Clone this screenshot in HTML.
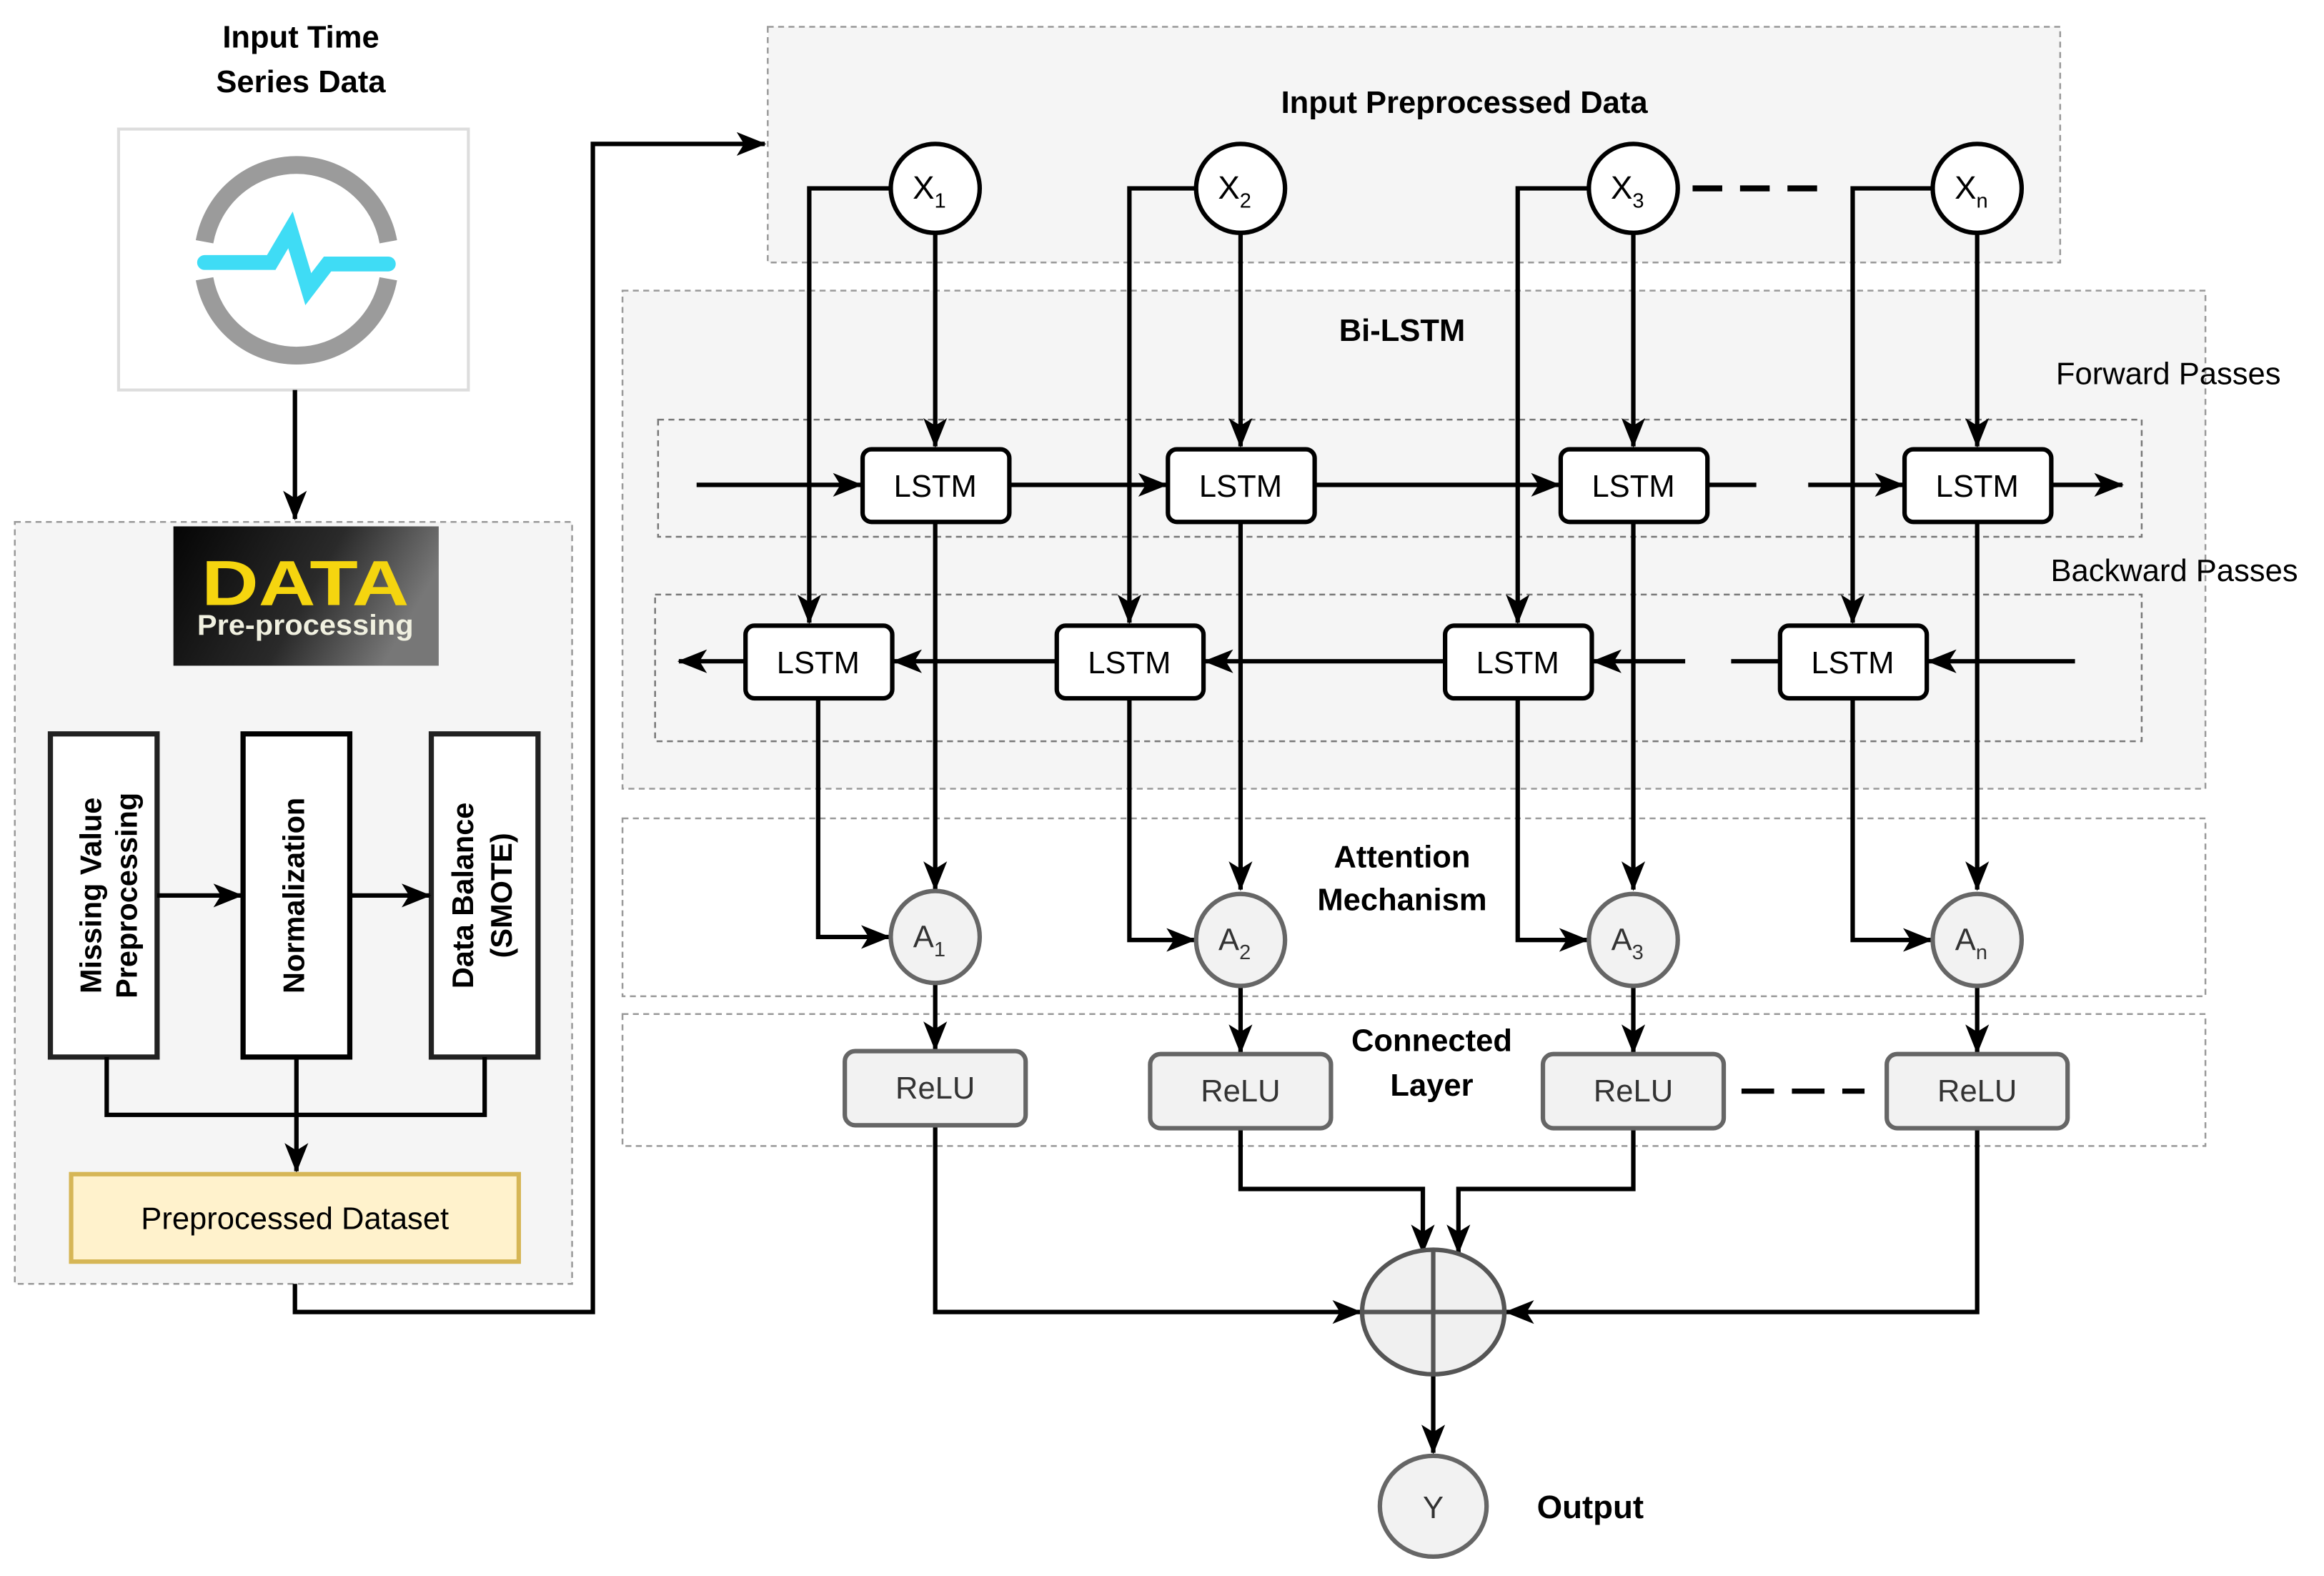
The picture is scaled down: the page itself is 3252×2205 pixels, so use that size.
<!DOCTYPE html>
<html><head><meta charset="utf-8"><style>
html,body{margin:0;padding:0;background:#fff}
svg{display:block}
text{font-family:"Liberation Sans",sans-serif}
</style></head><body>
<svg width="3252" height="2205" viewBox="0 0 1568 1063" xmlns="http://www.w3.org/2000/svg">
<defs>
<marker id="a" viewBox="0 0 20 20" refX="19" refY="10" markerWidth="20" markerHeight="20" markerUnits="userSpaceOnUse" orient="auto">
<path d="M0,2 L20,10 L0,18 L5,10 Z" fill="#000"/>
</marker>
<linearGradient id="g" x1="0" y1="0" x2="1" y2="0.3"><stop offset="0" stop-color="#050505"/><stop offset="0.6" stop-color="#2a2a2a"/><stop offset="1" stop-color="#777"/></linearGradient>
</defs>
<rect width="1568" height="1063" fill="#fff"/>

<!-- Left section -->
<text x="203" y="32" font-size="21" font-weight="bold" text-anchor="middle">Input Time</text>
<text x="203" y="62" font-size="21" font-weight="bold" text-anchor="middle">Series Data</text>
<rect x="80" y="87" width="236" height="176" fill="#fff" stroke="#ddd" stroke-width="2"/>
<path d="M138,163 A63,63 0 0 1 262,163" fill="none" stroke="#9b9b9b" stroke-width="12"/>
<path d="M138,188 A63,63 0 0 0 262,188" fill="none" stroke="#9b9b9b" stroke-width="12"/>
<path d="M138,177 L183,177 L196,155 L208,195 L221,178 L262,178" fill="none" stroke="#3fdcf5" stroke-width="10" stroke-linejoin="miter" stroke-linecap="round"/>
<line x1="199" y1="263" x2="199" y2="350" stroke="#000" stroke-width="3" marker-end="url(#a)"/>

<rect x="10" y="352" width="376" height="514" fill="#f5f5f5" stroke="#999" stroke-width="1.2" stroke-dasharray="4,3"/>
<rect x="117" y="355" width="179" height="94" fill="url(#g)"/>
<text x="206" y="408" font-size="43" font-weight="bold" fill="#f5d50f" text-anchor="middle" textLength="140" lengthAdjust="spacingAndGlyphs">DATA</text>
<text x="206" y="428" font-size="19" font-weight="bold" fill="#f0f0e0" text-anchor="middle" textLength="146" lengthAdjust="spacingAndGlyphs">Pre-processing</text>

<rect x="34" y="495" width="72" height="218" fill="#fff" stroke="#222" stroke-width="3.5"/>
<rect x="164" y="495" width="72" height="218" fill="#fff" stroke="#000" stroke-width="3.5"/>
<rect x="291" y="495" width="72" height="218" fill="#fff" stroke="#222" stroke-width="3.5"/>
<text transform="translate(63,604) rotate(-90)" font-size="20" font-weight="bold" text-anchor="middle" dominant-baseline="middle">Missing Value</text>
<text transform="translate(87,604) rotate(-90)" font-size="20" font-weight="bold" text-anchor="middle" dominant-baseline="middle">Preprocessing</text>
<text transform="translate(200,604) rotate(-90)" font-size="20" font-weight="bold" text-anchor="middle" dominant-baseline="middle">Normalization</text>
<text transform="translate(314,604) rotate(-90)" font-size="20" font-weight="bold" text-anchor="middle" dominant-baseline="middle">Data Balance</text>
<text transform="translate(340,604) rotate(-90)" font-size="20" font-weight="bold" text-anchor="middle" dominant-baseline="middle">(SMOTE)</text>
<line x1="106" y1="604" x2="163" y2="604" stroke="#000" stroke-width="3" marker-end="url(#a)"/>
<line x1="236" y1="604" x2="290" y2="604" stroke="#000" stroke-width="3" marker-end="url(#a)"/>
<path d="M72,713 V752 H327 V713" fill="none" stroke="#000" stroke-width="3"/>
<line x1="200" y1="713" x2="200" y2="790" stroke="#000" stroke-width="3" marker-end="url(#a)"/>
<rect x="48" y="792" width="302" height="59" fill="#fff2cc" stroke="#d6b656" stroke-width="3"/>
<text x="199" y="829" font-size="21" text-anchor="middle">Preprocessed Dataset</text>
<path d="M199,866 V885 H400 V97 H516" fill="none" stroke="#000" stroke-width="3" marker-end="url(#a)"/>

<!-- containers -->
<rect x="518" y="18" width="872" height="159" fill="#f5f5f5" stroke="#999" stroke-width="1.2" stroke-dasharray="4,3"/>
<text x="988" y="76" font-size="21" font-weight="bold" text-anchor="middle">Input Preprocessed Data</text>
<rect x="420" y="196" width="1068" height="336" fill="#f5f5f5" stroke="#999" stroke-width="1.2" stroke-dasharray="4,3"/>
<text x="946" y="230" font-size="21" font-weight="bold" text-anchor="middle">Bi-LSTM</text>
<rect x="444" y="283" width="1001" height="79" fill="none" stroke="#777" stroke-width="1.2" stroke-dasharray="4,3"/>
<rect x="442" y="401" width="1003" height="99" fill="none" stroke="#777" stroke-width="1.2" stroke-dasharray="4,3"/>
<text x="1463" y="259" font-size="21" text-anchor="middle">Forward Passes</text>
<text x="1467" y="392" font-size="21" text-anchor="middle">Backward Passes</text>
<rect x="420" y="552" width="1068" height="120" fill="#fff" stroke="#999" stroke-width="1.2" stroke-dasharray="4,3"/>
<text x="946" y="585" font-size="21" font-weight="bold" text-anchor="middle">Attention</text>
<text x="946" y="614" font-size="21" font-weight="bold" text-anchor="middle">Mechanism</text>
<rect x="420" y="684" width="1068" height="89" fill="#fff" stroke="#999" stroke-width="1.2" stroke-dasharray="4,3"/>
<text x="966" y="709" font-size="21" font-weight="bold" text-anchor="middle">Connected</text>
<text x="966" y="739" font-size="21" font-weight="bold" text-anchor="middle">Layer</text>

<!-- X to backward -->
<g fill="none" stroke="#000" stroke-width="3">
<path d="M601,127 H546 V420" marker-end="url(#a)"/>
<path d="M807,127 H762 V420" marker-end="url(#a)"/>
<path d="M1072,127 H1024 V420" marker-end="url(#a)"/>
<path d="M1304,127 H1250 V420" marker-end="url(#a)"/>
<line x1="631" y1="157" x2="631" y2="301" marker-end="url(#a)"/>
<line x1="837" y1="157" x2="837" y2="301" marker-end="url(#a)"/>
<line x1="1102" y1="157" x2="1102" y2="301" marker-end="url(#a)"/>
<line x1="1334" y1="157" x2="1334" y2="301" marker-end="url(#a)"/>
<line x1="1142" y1="127" x2="1230" y2="127" stroke-dasharray="20,12" stroke-width="4"/>
<!-- forward -->
<line x1="470" y1="327" x2="581" y2="327" marker-end="url(#a)"/>
<line x1="681" y1="327" x2="787" y2="327" marker-end="url(#a)"/>
<line x1="887" y1="327" x2="1052" y2="327" marker-end="url(#a)"/>
<line x1="1152" y1="327" x2="1185" y2="327"/>
<line x1="1220" y1="327" x2="1284" y2="327" marker-end="url(#a)"/>
<line x1="1384" y1="327" x2="1432" y2="327" marker-end="url(#a)"/>
<!-- backward -->
<line x1="1400" y1="446" x2="1301" y2="446" marker-end="url(#a)"/>
<line x1="1200" y1="446" x2="1168" y2="446"/>
<line x1="1137" y1="446" x2="1075" y2="446" marker-end="url(#a)"/>
<line x1="974" y1="446" x2="813" y2="446" marker-end="url(#a)"/>
<line x1="712" y1="446" x2="603" y2="446" marker-end="url(#a)"/>
<line x1="502" y1="446" x2="458" y2="446" marker-end="url(#a)"/>
<!-- to attention -->
<line x1="631" y1="352" x2="631" y2="600" marker-end="url(#a)"/>
<line x1="837" y1="352" x2="837" y2="600" marker-end="url(#a)"/>
<line x1="1102" y1="352" x2="1102" y2="600" marker-end="url(#a)"/>
<line x1="1334" y1="352" x2="1334" y2="600" marker-end="url(#a)"/>
<path d="M552,471 V632 H600" marker-end="url(#a)"/>
<path d="M762,471 V634 H806" marker-end="url(#a)"/>
<path d="M1024,471 V634 H1071" marker-end="url(#a)"/>
<path d="M1250,471 V634 H1303" marker-end="url(#a)"/>
<line x1="631" y1="664" x2="631" y2="708" marker-end="url(#a)"/>
<line x1="837" y1="666" x2="837" y2="710" marker-end="url(#a)"/>
<line x1="1102" y1="666" x2="1102" y2="710" marker-end="url(#a)"/>
<line x1="1334" y1="666" x2="1334" y2="710" marker-end="url(#a)"/>
<line x1="1175" y1="736" x2="1258" y2="736" stroke-dasharray="22,12" stroke-width="3.5"/>
<!-- to sum -->
<path d="M631,759 V885 H918" marker-end="url(#a)"/>
<path d="M1334,761 V885 H1016" marker-end="url(#a)"/>
<path d="M837,761 V802 H960 V845" marker-end="url(#a)"/>
<path d="M1102,761 V802 H984 V845" marker-end="url(#a)"/>
<line x1="967" y1="927" x2="967" y2="980" marker-end="url(#a)"/>
</g>

<!-- X circles -->
<g stroke="#000" stroke-width="3" fill="#fff">
<circle cx="631" cy="127" r="30"/><circle cx="837" cy="127" r="30"/>
<circle cx="1102" cy="127" r="30"/><circle cx="1334" cy="127" r="30"/>
</g>
<g font-size="22" text-anchor="middle">
<text x="627" y="134">X<tspan font-size="14" dy="6">1</tspan></text>
<text x="833" y="134">X<tspan font-size="14" dy="6">2</tspan></text>
<text x="1098" y="134">X<tspan font-size="14" dy="6">3</tspan></text>
<text x="1330" y="134">X<tspan font-size="14" dy="6">n</tspan></text>
</g>

<!-- LSTM boxes -->
<g stroke="#000" stroke-width="3" fill="#fff">
<rect x="582" y="303" width="99" height="49" rx="6"/>
<rect x="788" y="303" width="99" height="49" rx="6"/>
<rect x="1053" y="303" width="99" height="49" rx="6"/>
<rect x="1285" y="303" width="99" height="49" rx="6"/>
<rect x="503" y="422" width="99" height="49" rx="6"/>
<rect x="713" y="422" width="99" height="49" rx="6"/>
<rect x="975" y="422" width="99" height="49" rx="6"/>
<rect x="1201" y="422" width="99" height="49" rx="6"/>
</g>
<g font-size="21" text-anchor="middle">
<text x="631" y="335">LSTM</text><text x="837" y="335">LSTM</text>
<text x="1102" y="335">LSTM</text><text x="1334" y="335">LSTM</text>
<text x="552" y="454">LSTM</text><text x="762" y="454">LSTM</text>
<text x="1024" y="454">LSTM</text><text x="1250" y="454">LSTM</text>
</g>

<!-- A circles -->
<g stroke="#666" stroke-width="3" fill="#f2f2f2">
<ellipse cx="631" cy="632" rx="30" ry="31"/><ellipse cx="837" cy="634" rx="30" ry="31"/>
<ellipse cx="1102" cy="634" rx="30" ry="31"/><ellipse cx="1334" cy="634" rx="30" ry="31"/>
</g>
<g font-size="21" text-anchor="middle" fill="#333">
<text x="627" y="639">A<tspan font-size="14" dy="6">1</tspan></text>
<text x="833" y="641">A<tspan font-size="14" dy="6">2</tspan></text>
<text x="1098" y="641">A<tspan font-size="14" dy="6">3</tspan></text>
<text x="1330" y="641">A<tspan font-size="14" dy="6">n</tspan></text>
</g>

<!-- ReLU -->
<g stroke="#666" stroke-width="3" fill="#f2f2f2">
<rect x="570" y="709" width="122" height="50" rx="7"/>
<rect x="776" y="711" width="122" height="50" rx="7"/>
<rect x="1041" y="711" width="122" height="50" rx="7"/>
<rect x="1273" y="711" width="122" height="50" rx="7"/>
</g>
<g font-size="21" text-anchor="middle" fill="#333">
<text x="631" y="741">ReLU</text><text x="837" y="743">ReLU</text>
<text x="1102" y="743">ReLU</text><text x="1334" y="743">ReLU</text>
</g>

<!-- sum -->
<ellipse cx="967" cy="885" rx="48" ry="42" fill="#f0f0f0" stroke="#555" stroke-width="3"/>
<line x1="967" y1="843" x2="967" y2="927" stroke="#555" stroke-width="3"/>
<line x1="919" y1="885" x2="1015" y2="885" stroke="#555" stroke-width="3"/>
<ellipse cx="967" cy="1016" rx="36" ry="34" fill="#f2f2f2" stroke="#666" stroke-width="3"/>
<text x="967" y="1024" font-size="21" text-anchor="middle" fill="#333">Y</text>
<text x="1073" y="1024" font-size="22" font-weight="bold" text-anchor="middle">Output</text>
</svg>
</body></html>
